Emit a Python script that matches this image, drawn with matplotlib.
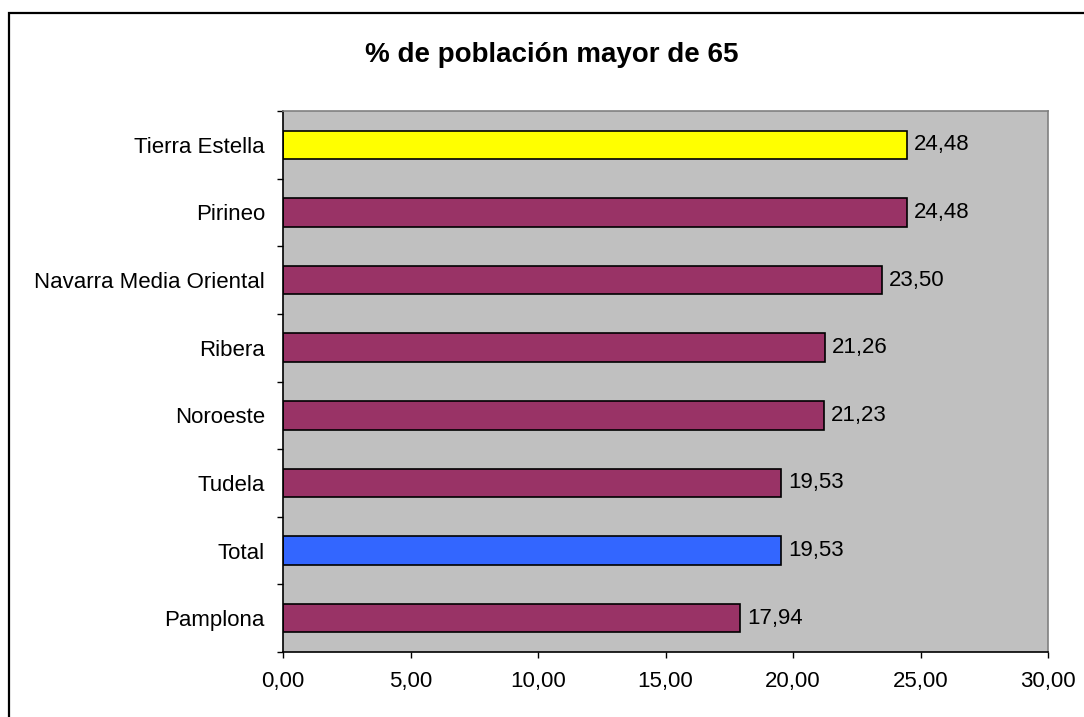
import matplotlib.pyplot as plt
from matplotlib.patches import Rectangle
import numpy as np

# data (bottom to top)
comarcas = ["Pamplona", "Total", "Tudela", "Noroeste", "Ribera",
            "Navarra Media Oriental", "Pirineo", "Tierra Estella"]
valores = [17.94, 19.53, 19.53, 21.23, 21.26, 23.50, 24.48, 24.48]
colores = ["#993366", "#3366FF", "#993366", "#993366", "#993366",
           "#993366", "#993366", "#FFFF00"]
xticks = [0, 5, 10, 15, 20, 25, 30]

plt.rcParams['font.family'] = ['Liberation Sans', 'DejaVu Sans']

fig = plt.figure(figsize=(10.84, 7.17), dpi=100)
ax = fig.add_axes([283/1084, 1 - 652/717, (1048 - 283)/1084, (652 - 111)/717])
ax.set_facecolor("#C0C0C0")

pos = np.arange(len(comarcas))
ax.barh(pos, valores, height=0.42, color=colores, edgecolor="black", linewidth=1.2)

for p, v in zip(pos, valores):
	ax.annotate(("%.2f" % v).replace(".", ","), xy=(v, p), xytext=(5, 0),
		textcoords="offset points", va="center", ha="left", fontsize=16)

ax.set_xlim(0, 30)
ax.set_ylim(-0.5, len(comarcas) - 0.5)
ax.set_xticks(xticks)
ax.set_xticklabels([("%.2f" % t).replace(".", ",") for t in xticks], fontsize=16)
ax.set_yticks(pos)
ax.set_yticklabels(comarcas, fontsize=16)
ax.set_yticks(np.arange(-0.5, len(comarcas), 1), minor=True)

ax.tick_params(axis="y", which="major", length=0, pad=13)
ax.tick_params(axis="y", which="minor", length=4.5, width=1, direction="out")
ax.tick_params(axis="x", which="major", length=4.5, width=1, direction="out", pad=9)

for s in ["left", "bottom"]:
	ax.spines[s].set_color("black")
	ax.spines[s].set_linewidth(1.2)
for s in ["top", "right"]:
	ax.spines[s].set_color("#808080")
	ax.spines[s].set_linewidth(1.2)

fig.text(552/1084, 1 - 55/717, "% de población mayor de 65", ha="center", va="center",
	fontsize=20, fontweight="bold")

# outer chart border (cut off at right and bottom)
fig.patches.append(Rectangle((9/1084, -0.1), 1.2, 1 + 0.1 - 12.5/717,
	transform=fig.transFigure, fill=False, edgecolor="black", linewidth=1.6, clip_on=False))

fig.savefig("out.png", dpi=100)
